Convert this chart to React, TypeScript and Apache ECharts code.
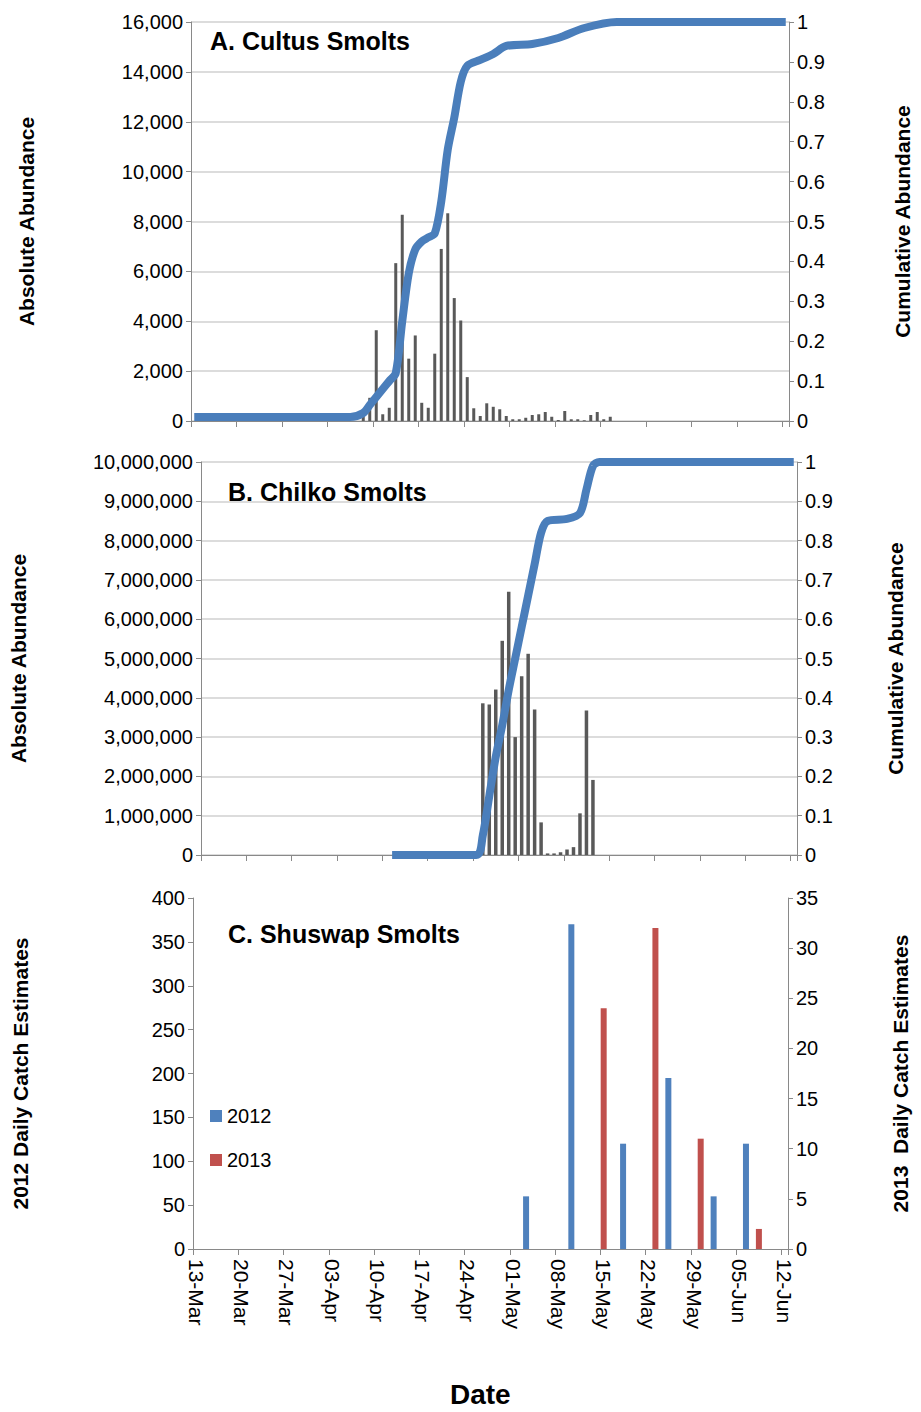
import * as echarts from 'echarts';
import React, { useEffect, useRef } from 'react';

const MONTHS = ['Mar', 'Apr', 'May', 'Jun'];
const MONTH_DAYS = [31, 30, 31, 30];
// 13-Mar .. 12-Jun
const dates: string[] = [];
{
  let m = 0;
  let d = 13;
  while (!(m === 3 && d > 12)) {
    dates.push(`${String(d).padStart(2, '0')}-${MONTHS[m]}`);
    d++;
    if (d > MONTH_DAYS[m]) {
      d = 1;
      m++;
    }
  }
}

// Panel A: Cultus daily abundance, starting at day index 26
const cultusStart = 26;
const cultusBars = [
  470, 930, 3640, 270, 530, 6330, 8270, 2500, 3430, 730, 530, 2700, 6900, 8330, 4930, 4030, 1760, 510, 200,
  710, 570, 470, 200, 70, 70, 130, 240, 270, 360, 170, 40, 400, 70, 70, 30, 240, 360, 70, 170,
];
const cultusCum: [number, number][] = [
  [0, 0.01], [24, 0.01], [26, 0.02], [27, 0.04], [28, 0.06], [29, 0.08], [30, 0.1], [31, 0.12], [32, 0.25],
  [33, 0.37], [34, 0.43], [35, 0.45], [36, 0.46], [37, 0.47], [38, 0.55], [39, 0.68], [40, 0.76], [41, 0.85],
  [42, 0.89], [44, 0.905], [46, 0.92], [48, 0.94], [52, 0.945], [56, 0.96], [60, 0.985], [65, 1], [91, 1],
];

// Panel B: Chilko daily abundance, starting at day index 43
const chilkoStart = 43;
const chilkoBars = [
  3860000, 3830000, 4210000, 5450000, 6700000, 3000000, 4550000, 5120000, 3700000, 830000, 40000, 40000,
  70000, 140000, 200000, 1060000, 3680000, 1910000,
];
const chilkoCum: [number, number][] = [
  [29, 0], [42, 0], [43, 0.05], [44, 0.15], [45, 0.25], [46, 0.33], [47, 0.42], [48, 0.5], [49, 0.58],
  [50, 0.66], [51, 0.74], [52, 0.82], [53, 0.85], [56, 0.855], [58, 0.87], [59, 0.93], [60, 0.99], [61, 1],
  [91, 1],
];

// Panel C: Shuswap catch
const shuswap2012Days = [51, 58, 66, 73, 80, 85];
const shuswap2012 = [60, 370, 120, 195, 60, 120];
const shuswap2013Days = [63, 71, 78, 87];
const shuswap2013 = [24, 32, 11, 2];

const toCat = (start: number, vals: number[]) => {
  const arr: (number | null)[] = dates.map(() => null);
  vals.forEach((v, i) => (arr[start + i] = v));
  return arr;
};
const toCatAt = (days: number[], vals: number[]) => {
  const arr: (number | null)[] = dates.map(() => null);
  days.forEach((d, i) => (arr[d] = vals[i]));
  return arr;
};

const FONT = 'Liberation Sans';
const AXIS = '#898989';
const GRID = '#d0d0d0';
const LINE = '#4a7ebb';

export default function App(): React.ReactElement {
  const ref = useRef<HTMLDivElement>(null);

  useEffect(() => {
    document.body.style.margin = '0';
    if (!ref.current) return;
    const chart = echarts.init(ref.current, null, { renderer: 'svg' });
    const fmt = (v: number) => v.toLocaleString('en-US');
    const tickEvery = (i: number) => i % 7 === 0;
    const label = { color: '#000', fontSize: 20, fontFamily: FONT, margin: 8 };

    const xAxis = (gridIndex: number, showLabels: boolean) => ({
      type: 'category',
      gridIndex,
      data: dates,
      boundaryGap: true,
      axisLine: { lineStyle: { color: AXIS } },
      axisTick: { show: true, interval: (i: number) => tickEvery(i), lineStyle: { color: AXIS }, length: 6 },
      axisLabel: showLabels
        ? { show: true, interval: (i: number) => tickEvery(i), rotate: -90, color: '#000', fontSize: 21, fontFamily: FONT, margin: 10 }
        : { show: false },
      splitLine: { show: false },
    });

    const yAxis = (gridIndex: number, opts: any) => ({
      type: 'value',
      gridIndex,
      axisLine: { show: true, lineStyle: { color: AXIS } },
      axisTick: { show: true, lineStyle: { color: AXIS } },
      axisLabel: label,
      nameLocation: 'middle',
      nameRotate: 90,
      nameTextStyle: { color: '#000', fontSize: 21, fontWeight: 'bold', fontFamily: FONT },
      ...opts,
    });

    chart.setOption({
      animation: false,
      backgroundColor: '#fff',
      textStyle: { fontFamily: FONT },
      grid: [
        { left: 191, right: 124, top: 22, height: 399 },
        { left: 199, right: 124, top: 462, height: 393 },
        { left: 193, right: 133, top: 898, height: 351 },
      ],
      xAxis: [xAxis(0, false), xAxis(1, false), xAxis(2, true)],
      yAxis: [
        yAxis(0, { min: 0, max: 16000, interval: 2000, name: 'Absolute Abundance', nameGap: 154, axisLabel: { ...label, formatter: fmt }, splitLine: { lineStyle: { color: GRID, width: 1.5 } } }),
        yAxis(0, { min: 0, max: 1, interval: 0.1, position: 'right', name: 'Cumulative Abundance', nameGap: 103, splitLine: { show: false } }),
        yAxis(1, { min: 0, max: 10000000, interval: 1000000, name: 'Absolute Abundance', nameGap: 172, axisLabel: { ...label, formatter: fmt }, splitLine: { lineStyle: { color: GRID, width: 1.5 } } }),
        yAxis(1, { min: 0, max: 1, interval: 0.1, position: 'right', name: 'Cumulative Abundance', nameGap: 88, splitLine: { show: false } }),
        yAxis(2, { min: 0, max: 400, interval: 50, name: '2012 Daily Catch Estimates', nameGap: 162, splitLine: { show: false } }),
        yAxis(2, { min: 0, max: 35, interval: 5, position: 'right', name: '2013  Daily Catch Estimates', nameGap: 102, splitLine: { show: false } }),
      ],
      legend: {
        orient: 'vertical',
        left: 205,
        top: 1101,
        itemGap: 24,
        itemWidth: 12,
        itemHeight: 12,
        icon: 'rect',
        textStyle: { fontSize: 20, color: '#000', fontFamily: FONT },
        data: ['2012', '2013'],
      },
      series: [
        { type: 'bar', xAxisIndex: 0, yAxisIndex: 0, data: toCat(cultusStart, cultusBars), barWidth: 3, itemStyle: { color: '#595959' } },
        { type: 'line', xAxisIndex: 0, yAxisIndex: 1, data: cultusCum, symbol: 'none', smooth: 0.3, lineStyle: { color: LINE, width: 8 } },
        { type: 'bar', xAxisIndex: 1, yAxisIndex: 2, data: toCat(chilkoStart, chilkoBars), barWidth: 3.5, itemStyle: { color: '#595959' } },
        { type: 'line', xAxisIndex: 1, yAxisIndex: 3, data: chilkoCum, symbol: 'none', smooth: 0.3, lineStyle: { color: LINE, width: 8 } },
        { name: '2012', type: 'bar', xAxisIndex: 2, yAxisIndex: 4, data: toCatAt(shuswap2012Days, shuswap2012), barWidth: 6, barGap: '-100%', itemStyle: { color: '#4f81bd' } },
        { name: '2013', type: 'bar', xAxisIndex: 2, yAxisIndex: 5, data: toCatAt(shuswap2013Days, shuswap2013), barWidth: 6, barGap: '-100%', itemStyle: { color: '#c0504d' } },
      ],
      graphic: [
        { type: 'text', left: 210, top: 28, style: { text: 'A. Cultus Smolts', fontSize: 25, fontWeight: 'bold', fontFamily: FONT, fill: '#000' } },
        { type: 'text', left: 228, top: 479, style: { text: 'B. Chilko Smolts', fontSize: 25, fontWeight: 'bold', fontFamily: FONT, fill: '#000' } },
        { type: 'text', left: 228, top: 921, style: { text: 'C. Shuswap Smolts', fontSize: 25, fontWeight: 'bold', fontFamily: FONT, fill: '#000' } },
        { type: 'text', left: 450, top: 1380, style: { text: 'Date', fontSize: 28, fontWeight: 'bold', fontFamily: FONT, fill: '#000' } },
      ],
    });

    return () => chart.dispose();
  }, []);

  return <div ref={ref} style={{ width: 921, height: 1412 }} />;
}
